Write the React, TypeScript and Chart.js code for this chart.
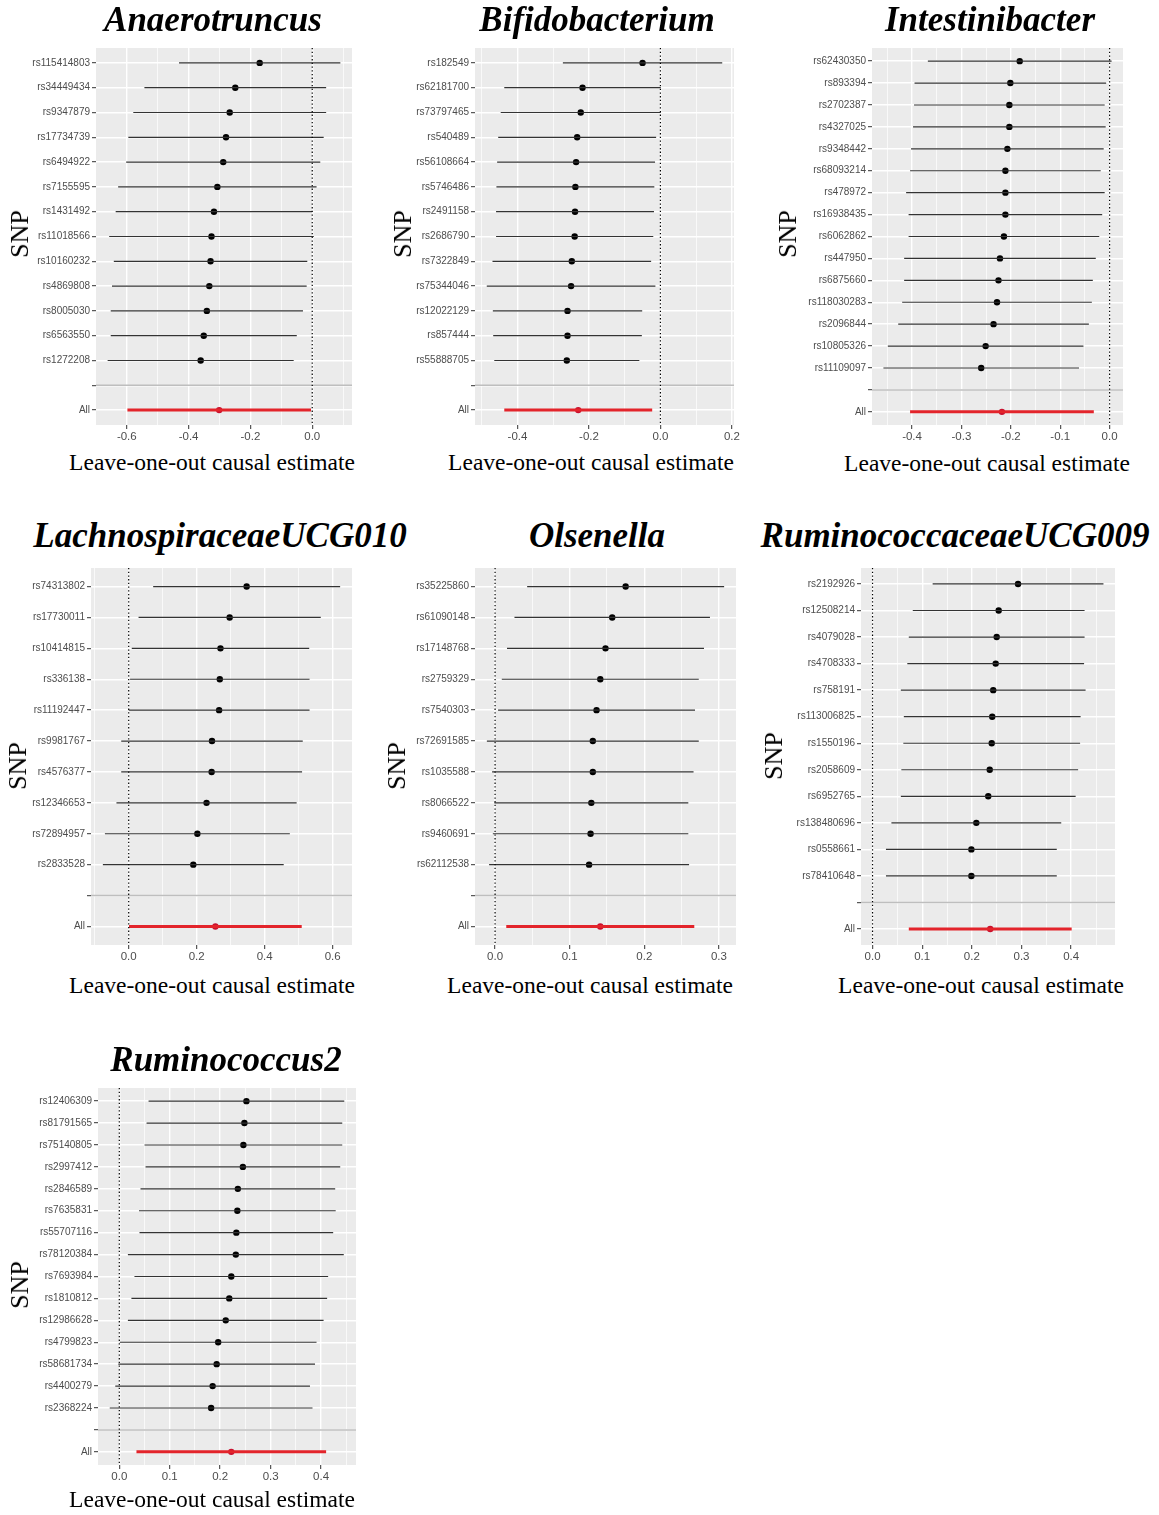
import React, { useEffect, useRef } from "react";
import { Chart, registerables } from "chart.js";

Chart.register(...registerables);

// ---------------- leave-one-out estimates (last entry = all SNPs) ----------------

const anaerotruncusSnps = ["rs115414803", "rs34449434", "rs9347879", "rs17734739", "rs6494922", "rs7155595", "rs1431492", "rs11018566", "rs10160232", "rs4869808", "rs8005030", "rs6563550", "rs1272208", "All"];
const anaerotruncusBeta = [-0.170, -0.249, -0.267, -0.279, -0.288, -0.307, -0.318, -0.326, -0.329, -0.333, -0.341, -0.351, -0.361, -0.301];
const anaerotruncusLower = [-0.431, -0.543, -0.579, -0.595, -0.602, -0.628, -0.636, -0.657, -0.642, -0.648, -0.652, -0.652, -0.662, -0.598];
const anaerotruncusUpper = [0.091, 0.045, 0.045, 0.037, 0.026, 0.014, 0.000, 0.005, -0.016, -0.018, -0.030, -0.050, -0.060, -0.004];
const anaerotruncusTicks = [-0.6, -0.4, -0.2, 0.0];

const bifidobacteriumSnps = ["rs182549", "rs62181700", "rs73797465", "rs540489", "rs56108664", "rs5746486", "rs2491158", "rs2686790", "rs7322849", "rs75344046", "rs12022129", "rs857444", "rs55888705", "All"];
const bifidobacteriumBeta = [-0.050, -0.218, -0.223, -0.233, -0.236, -0.238, -0.239, -0.240, -0.248, -0.250, -0.260, -0.260, -0.262, -0.230];
const bifidobacteriumLower = [-0.273, -0.437, -0.447, -0.454, -0.457, -0.459, -0.460, -0.460, -0.470, -0.486, -0.469, -0.468, -0.465, -0.437];
const bifidobacteriumUpper = [0.173, 0.001, 0.001, -0.012, -0.015, -0.017, -0.018, -0.020, -0.026, -0.014, -0.051, -0.052, -0.059, -0.023];
const bifidobacteriumTicks = [-0.4, -0.2, 0.0, 0.2];

const intestinibacterSnps = ["rs62430350", "rs893394", "rs2702387", "rs4327025", "rs9348442", "rs68093214", "rs478972", "rs16938435", "rs6062862", "rs447950", "rs6875660", "rs118030283", "rs2096844", "rs10805326", "rs11109097", "All"];
const intestinibacterBeta = [-0.182, -0.201, -0.203, -0.203, -0.207, -0.211, -0.211, -0.211, -0.214, -0.222, -0.225, -0.228, -0.235, -0.251, -0.260, -0.218];
const intestinibacterLower = [-0.368, -0.395, -0.396, -0.398, -0.402, -0.404, -0.412, -0.407, -0.407, -0.416, -0.416, -0.420, -0.428, -0.449, -0.458, -0.404];
const intestinibacterUpper = [0.004, -0.007, -0.010, -0.008, -0.012, -0.018, -0.010, -0.015, -0.021, -0.028, -0.034, -0.036, -0.042, -0.053, -0.062, -0.032];
const intestinibacterTicks = [-0.4, -0.3, -0.2, -0.1, 0.0];

const lachnospiraceaeSnps = ["rs74313802", "rs17730011", "rs10414815", "rs336138", "rs11192447", "rs9981767", "rs4576377", "rs12346653", "rs72894957", "rs2833528", "All"];
const lachnospiraceaeBeta = [0.347, 0.297, 0.270, 0.268, 0.266, 0.245, 0.244, 0.229, 0.202, 0.190, 0.255];
const lachnospiraceaeLower = [0.072, 0.029, 0.009, 0.004, 0.000, -0.022, -0.022, -0.036, -0.070, -0.076, 0.001];
const lachnospiraceaeUpper = [0.622, 0.565, 0.531, 0.532, 0.532, 0.512, 0.510, 0.494, 0.474, 0.456, 0.509];
const lachnospiraceaeTicks = [0.0, 0.2, 0.4, 0.6];

const olsenellaSnps = ["rs35225860", "rs61090148", "rs17148768", "rs2759329", "rs7540303", "rs72691585", "rs1035588", "rs8066522", "rs9460691", "rs62112538", "All"];
const olsenellaBeta = [0.175, 0.157, 0.148, 0.141, 0.136, 0.131, 0.131, 0.129, 0.128, 0.126, 0.141];
const olsenellaLower = [0.043, 0.026, 0.016, 0.009, 0.004, -0.011, -0.004, -0.001, -0.003, -0.008, 0.015];
const olsenellaUpper = [0.307, 0.288, 0.280, 0.273, 0.268, 0.273, 0.266, 0.259, 0.259, 0.260, 0.267];
const olsenellaTicks = [0.0, 0.1, 0.2, 0.3];

const ruminococcaceaeSnps = ["rs2192926", "rs12508214", "rs4079028", "rs4708333", "rs758191", "rs113006825", "rs1550196", "rs2058609", "rs6952765", "rs138480696", "rs0558661", "rs78410648", "All"];
const ruminococcaceaeBeta = [0.293, 0.254, 0.250, 0.248, 0.243, 0.241, 0.240, 0.236, 0.233, 0.209, 0.199, 0.199, 0.237];
const ruminococcaceaeLower = [0.121, 0.081, 0.073, 0.070, 0.057, 0.063, 0.062, 0.058, 0.057, 0.038, 0.027, 0.027, 0.073];
const ruminococcaceaeUpper = [0.465, 0.427, 0.427, 0.426, 0.429, 0.419, 0.418, 0.414, 0.409, 0.380, 0.371, 0.371, 0.401];
const ruminococcaceaeTicks = [0.0, 0.1, 0.2, 0.3, 0.4];

const ruminococcus2Snps = ["rs12406309", "rs81791565", "rs75140805", "rs2997412", "rs2846589", "rs7635831", "rs55707116", "rs78120384", "rs7693984", "rs1810812", "rs12986628", "rs4799823", "rs58681734", "rs4400279", "rs2368224", "All"];
const ruminococcus2Beta = [0.252, 0.248, 0.246, 0.245, 0.235, 0.234, 0.232, 0.231, 0.222, 0.218, 0.211, 0.196, 0.193, 0.185, 0.182, 0.222];
const ruminococcus2Lower = [0.058, 0.054, 0.050, 0.052, 0.042, 0.039, 0.040, 0.017, 0.030, 0.024, 0.017, 0.001, -0.002, -0.008, -0.019, 0.034];
const ruminococcus2Upper = [0.446, 0.442, 0.442, 0.438, 0.428, 0.429, 0.424, 0.445, 0.414, 0.412, 0.405, 0.391, 0.388, 0.378, 0.383, 0.410];
const ruminococcus2Ticks = [0.0, 0.1, 0.2, 0.3, 0.4];

// ---------------- layout ----------------

const PANEL_H = 377;
const Y_AXIS_W = 80;
const X_AXIS_H = 24;
const PAD_T = 10;
const PAD_R = 16;

const SERIF = '"Liberation Serif", "Times New Roman", serif';
const SANS = '"Liberation Sans", Arial, sans-serif';

type Panel = {
  genus: string;
  snps: string[];
  beta: number[];
  lower: number[];
  upper: number[];
  ticks: number[];
  left: number;
  right: number;
  top: number;
  titleX: number;
  titleBase: number;
  xTitleX: number;
  xTitleBase: number;
  snpX: number;
  snpY: number;
};

const panels: Panel[] = [
  { genus: "Anaerotruncus", snps: anaerotruncusSnps, beta: anaerotruncusBeta, lower: anaerotruncusLower, upper: anaerotruncusUpper, ticks: anaerotruncusTicks,
    left: 96, right: 352, top: 48, titleX: 213, titleBase: 31, xTitleX: 212, xTitleBase: 471, snpX: 20, snpY: 234 },
  { genus: "Bifidobacterium", snps: bifidobacteriumSnps, beta: bifidobacteriumBeta, lower: bifidobacteriumLower, upper: bifidobacteriumUpper, ticks: bifidobacteriumTicks,
    left: 475, right: 734, top: 48, titleX: 597, titleBase: 31, xTitleX: 591, xTitleBase: 471, snpX: 403, snpY: 234 },
  { genus: "Intestinibacter", snps: intestinibacterSnps, beta: intestinibacterBeta, lower: intestinibacterLower, upper: intestinibacterUpper, ticks: intestinibacterTicks,
    left: 872, right: 1123, top: 48, titleX: 990, titleBase: 31, xTitleX: 987, xTitleBase: 472, snpX: 788, snpY: 234 },
  { genus: "LachnospiraceaeUCG010", snps: lachnospiraceaeSnps, beta: lachnospiraceaeBeta, lower: lachnospiraceaeLower, upper: lachnospiraceaeUpper, ticks: lachnospiraceaeTicks,
    left: 91, right: 352, top: 568, titleX: 220, titleBase: 547, xTitleX: 212, xTitleBase: 994, snpX: 18, snpY: 766 },
  { genus: "Olsenella", snps: olsenellaSnps, beta: olsenellaBeta, lower: olsenellaLower, upper: olsenellaUpper, ticks: olsenellaTicks,
    left: 475, right: 736, top: 568, titleX: 597, titleBase: 547, xTitleX: 590, xTitleBase: 994, snpX: 397, snpY: 766 },
  { genus: "RuminococcaceaeUCG009", snps: ruminococcaceaeSnps, beta: ruminococcaceaeBeta, lower: ruminococcaceaeLower, upper: ruminococcaceaeUpper, ticks: ruminococcaceaeTicks,
    left: 861, right: 1115, top: 568, titleX: 955, titleBase: 547, xTitleX: 981, xTitleBase: 994, snpX: 774, snpY: 756 },
  { genus: "Ruminococcus2", snps: ruminococcus2Snps, beta: ruminococcus2Beta, lower: ruminococcus2Lower, upper: ruminococcus2Upper, ticks: ruminococcus2Ticks,
    left: 98, right: 356, top: 1088, titleX: 226, titleBase: 1071, xTitleX: 212, xTitleBase: 1508, snpX: 20, snpY: 1285 },
];

// grey panel background behind the grid
const panelBackground = {
  id: "panelBackground",
  beforeDraw(chart: any) {
    const { ctx, chartArea } = chart;
    ctx.save();
    ctx.fillStyle = "#EBEBEB";
    ctx.fillRect(chartArea.left, chartArea.top, chartArea.right - chartArea.left, chartArea.bottom - chartArea.top);
    ctx.restore();
  },
};

function ForestPanel({ p }: { p: Panel }) {
  const ref = useRef<HTMLCanvasElement>(null);
  const width = p.right - p.left + Y_AXIS_W + PAD_R;
  const height = PAD_T + PANEL_H + X_AXIS_H;

  useEffect(() => {
    if (!ref.current) return;
    const n = p.snps.length - 1;
    const levels = [...p.snps.slice(0, n), "", p.snps[n]];
    const K = levels.length;
    const sepLevel = n + 1;

    // x range: intervals plus the zero line, widened 5% on each side
    const lo = Math.min(0, ...p.lower);
    const hi = Math.max(0, ...p.upper);
    const pad = (hi - lo) * 0.05;
    const xMin = lo - pad;
    const xMax = hi + pad;

    const step = p.ticks[1] - p.ticks[0];
    const ext = [p.ticks[0] - step, ...p.ticks, p.ticks[p.ticks.length - 1] + step];
    const minor: number[] = [];
    for (let i = 0; i < ext.length - 1; i++) minor.push((ext[i] + ext[i + 1]) / 2);
    const allTicks = [...p.ticks, ...minor.filter((v) => v >= xMin && v <= xMax)].sort((a, b) => a - b);
    const isMajor = (v: number) => p.ticks.some((t) => Math.abs(t - v) < 1e-9);

    const datasets: any[] = [];
    // dotted reference line at zero
    datasets.push({
      data: [{ x: 0, y: 0.4 }, { x: 0, y: K + 0.6 }],
      showLine: true, borderColor: "#000", borderWidth: 1.2, borderDash: [1.3, 2.4], pointRadius: 0,
    });
    // confidence intervals
    for (let i = 0; i < n; i++) {
      datasets.push({
        data: [{ x: p.lower[i], y: i + 1 }, { x: p.upper[i], y: i + 1 }],
        showLine: true, borderColor: "#333333", borderWidth: 1.2, pointRadius: 0,
      });
    }
    datasets.push({
      data: [{ x: p.lower[n], y: K }, { x: p.upper[n], y: K }],
      showLine: true, borderColor: "#E3242B", borderWidth: 3, pointRadius: 0,
    });
    // estimates
    datasets.push({
      data: p.beta.map((b, i) => ({ x: b, y: i < n ? i + 1 : K })),
      showLine: false,
      pointRadius: 3.2,
      pointBorderWidth: 0,
      pointBackgroundColor: p.beta.map((_, i) => (i < n ? "#000" : "#C8102E")),
      pointBorderColor: p.beta.map((_, i) => (i < n ? "#000" : "#C8102E")),
    });
    // separator before the overall estimate
    datasets.push({
      data: [{ x: xMin, y: sepLevel }, { x: xMax, y: sepLevel }],
      showLine: true, borderColor: "#BEBEBE", borderWidth: 1.5, pointRadius: 0,
    });

    const chart = new Chart(ref.current, {
      type: "scatter",
      data: { datasets },
      options: {
        responsive: false,
        animation: false,
        events: [],
        layout: { padding: { top: PAD_T, right: PAD_R, left: 0, bottom: 0 } },
        plugins: { legend: { display: false }, tooltip: { enabled: false }, title: { display: false } },
        scales: {
          x: {
            type: "linear",
            position: "bottom",
            min: xMin,
            max: xMax,
            afterBuildTicks: (s: any) => {
              s.ticks = allTicks.map((v) => ({ value: v }));
            },
            afterFit: (s: any) => {
              s.height = X_AXIS_H;
            },
            ticks: {
              autoSkip: false,
              maxRotation: 0,
              padding: 1,
              color: "#4D4D4D",
              font: { family: SANS, size: 11.5 },
              callback: (v: any) => (isMajor(Number(v)) ? Number(v).toFixed(1) : ""),
            },
            grid: {
              color: "#FFFFFF",
              lineWidth: (c: any) => (c.tick && isMajor(c.tick.value) ? 1.4 : 0.7),
              tickColor: (c: any) => (c.tick && isMajor(c.tick.value) ? "#333333" : "rgba(0,0,0,0)"),
              tickLength: 4,
              tickWidth: 1,
            },
            border: { display: false },
          },
          y: {
            type: "linear",
            reverse: true,
            min: 0.4,
            max: K + 0.6,
            afterBuildTicks: (s: any) => {
              s.ticks = levels.map((_, i) => ({ value: i + 1 }));
            },
            afterFit: (s: any) => {
              s.width = Y_AXIS_W;
            },
            ticks: {
              autoSkip: false,
              padding: 2,
              color: "#4D4D4D",
              font: { family: SANS, size: 10 },
              callback: (v: any) => levels[Math.round(Number(v)) - 1] ?? "",
            },
            grid: { color: "#FFFFFF", lineWidth: 1.4, tickColor: "#333333", tickLength: 4, tickWidth: 1 },
            border: { display: false },
          },
        },
      },
      plugins: [panelBackground],
    } as any);
    return () => chart.destroy();
  }, [p]);

  return (
    <>
      <canvas
        ref={ref}
        width={width}
        height={height}
        style={{ position: "absolute", left: p.left - Y_AXIS_W, top: p.top - PAD_T, width, height, display: "block" }}
      />
      <div
        style={{
          position: "absolute", left: p.titleX, top: p.titleBase - 29.3, transform: "translateX(-50%)",
          font: `italic bold 35px ${SERIF}`, lineHeight: "35px", whiteSpace: "nowrap", color: "#000",
        }}
      >
        {p.genus}
      </div>
      <div
        style={{
          position: "absolute", left: p.xTitleX, top: p.xTitleBase - 19.7, transform: "translateX(-50%)",
          font: `23.5px ${SERIF}`, lineHeight: "23.5px", whiteSpace: "nowrap", color: "#000",
        }}
      >
        Leave-one-out causal estimate
      </div>
      <div
        style={{
          position: "absolute", left: p.snpX, top: p.snpY, transform: "translate(-50%, -50%) rotate(-90deg)",
          font: `26px ${SERIF}`, lineHeight: "26px", whiteSpace: "nowrap", color: "#000",
        }}
      >
        SNP
      </div>
    </>
  );
}

export default function App() {
  return (
    <div style={{ position: "absolute", left: 0, top: 0, width: 1159, height: 1515, background: "#FFFFFF", overflow: "hidden" }}>
      {panels.map((p) => (
        <ForestPanel key={p.genus} p={p} />
      ))}
    </div>
  );
}
